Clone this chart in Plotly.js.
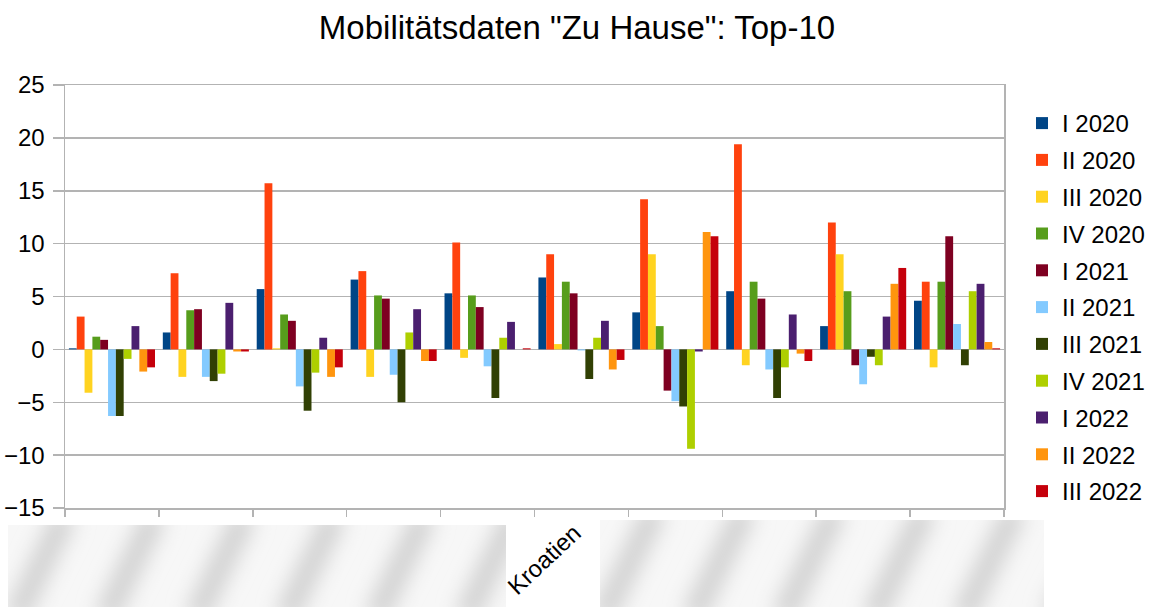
<!DOCTYPE html>
<html><head><meta charset="utf-8">
<script src="https://cdn.plot.ly/plotly-3.0.1.min.js"></script>
<style>html,body{margin:0;padding:0;background:#fff}#chart{width:1153px;height:607px}</style>
</head><body><div id="chart"></div>
<script>
// Categories (country labels are redacted in the reference except "Kroatien")
const categories = ['Land 1','Land 2','Land 3','Land 4','Land 5','Kroatien','Land 7','Land 8','Land 9','Land 10'];
const tickLabels = ['','','','','','Kroatien','','','',''];

const seriesNames = ['I 2020','II 2020','III 2020','IV 2020','I 2021','II 2021','III 2021','IV 2021','I 2022','II 2022','III 2022'];

const s_I_2020   = [0.1, 1.6, 5.7, 6.6, 5.3, 6.8, 3.5, 5.5, 2.2, 4.6];
const s_II_2020  = [3.1, 7.2, 15.7, 7.4, 10.1, 9.0, 14.2, 19.4, 12.0, 6.4];
const s_III_2020 = [-4.1, -2.6, 0.1, -2.6, -0.8, 0.5, 9.0, -1.5, 9.0, -1.7];
const s_IV_2020  = [1.2, 3.7, 3.3, 5.1, 5.1, 6.4, 2.2, 6.4, 5.5, 6.4];
const s_I_2021   = [0.9, 3.8, 2.7, 4.8, 4.0, 5.3, -3.9, 4.8, -1.5, 10.7];
const s_II_2021  = [-6.3, -2.6, -3.5, -2.4, -1.6, -0.1, -4.9, -1.9, -3.3, 2.4];
const s_III_2021 = [-6.3, -3.0, -5.8, -5.0, -4.6, -2.8, -5.4, -4.6, -0.7, -1.5];
const s_IV_2021  = [-0.9, -2.3, -2.2, 1.6, 1.1, 1.1, -9.4, -1.7, -1.5, 5.5];
const s_I_2022   = [2.2, 4.4, 1.1, 3.8, 2.6, 2.7, -0.2, 3.3, 3.1, 6.2];
const s_II_2022  = [-2.1, -0.2, -2.6, -1.1, 0.0, -1.9, 11.1, -0.4, 6.2, 0.7];
const s_III_2022 = [-1.7, -0.2, -1.7, -1.1, 0.1, -1.0, 10.7, -1.1, 7.7, 0.1];

const seriesValues = [s_I_2020, s_II_2020, s_III_2020, s_IV_2020, s_I_2021, s_II_2021, s_III_2021, s_IV_2021, s_I_2022, s_II_2022, s_III_2022];
const colors = ['#004586','#ff420e','#ffd320','#579d1c','#7e0021','#83caff','#314004','#aecf00','#4b1f6f','#ff950e','#c5000b'];

const traces = seriesNames.map((n, i) => ({
  type: 'bar', name: n, x: categories, y: seriesValues[i],
  marker: {color: colors[i], line: {width: 0}},
  legendgroup: 'g' + i, hoverinfo: 'x+y+name'
}));

// blurred redaction patch (as in the reference)
function patchSVG(w, h) {
  let stripes = '';
  for (let x = -h; x < w + h; x += 90) {
    stripes += `<line x1="${x}" y1="${h+10}" x2="${x + h*0.6}" y2="-10" stroke="#d2d2d2" stroke-width="24"/>`;
  }
  const svg = `<svg xmlns="http://www.w3.org/2000/svg" width="${w}" height="${h}" viewBox="0 0 ${w} ${h}">
  <defs><filter id="b" x="-20%" y="-20%" width="140%" height="140%"><feGaussianBlur stdDeviation="10"/></filter></defs>
  <rect width="${w}" height="${h}" fill="#f7f7f7"/>
  <g filter="url(#b)">${stripes}</g></svg>`;
  return 'data:image/svg+xml;base64,' + btoa(svg);
}

const W = 1153, H = 607;
const L = 65, R = 149, T = 85, B = 99;
const PW = W - L - R, PH = H - T - B;
const layout = {
  width: W, height: H,
  margin: {l: L, r: R, t: T, b: B},
  paper_bgcolor: '#ffffff', plot_bgcolor: '#ffffff',
  font: {family: 'Liberation Sans, Arial, sans-serif', color: '#000'},
  title: {text: 'Mobilitätsdaten "Zu Hause": Top-10', x: 577/W, xanchor: 'center', xref: 'container',
          y: 1 - 27/607, yanchor: 'middle', yref: 'container', font: {size: 33, color: '#000'}},
  barmode: 'group', bargap: 1/12, bargroupgap: 0,
  xaxis: {type: 'category', tickvals: categories, ticktext: tickLabels, tickangle: -43,
          tickson: 'boundaries', ticks: 'outside', ticklen: 7, tickcolor: '#b3b3b3', tickwidth: 1.5,
          showgrid: false, showline: true, mirror: true, linecolor: '#b3b3b3', linewidth: 1.5,
          tickfont: {size: 24, color: '#000'}, ticklabelshift: -7, zeroline: false},
  yaxis: {range: [-15, 25], dtick: 5, tick0: 0, ticks: 'outside', ticklen: 11, tickcolor: '#b3b3b3', tickwidth: 1.5,
          showgrid: true, gridcolor: '#b3b3b3', gridwidth: 1.5, zeroline: true, zerolinecolor: '#b3b3b3', zerolinewidth: 1.5,
          showline: true, mirror: true, linecolor: '#b3b3b3', linewidth: 1.5,
          tickfont: {size: 24, color: '#000'}, ticklabelstandoff: 3},
  legend: {x: 1022/W, xref: 'container', y: 1 - 101/H, yref: 'container', xanchor: 'left', yanchor: 'top',
           font: {size: 24, color: '#000'}, tracegroupgap: 2.6, itemwidth: 30, bgcolor: 'rgba(0,0,0,0)',
           maxheight: 600},
  showlegend: true,
  images: [
    {source: patchSVG(498, 82), xref: 'paper', yref: 'paper', x: (8-L)/PW, y: -(525-(T+PH))/PH,
     sizex: 498/PW, sizey: 82/PH, xanchor: 'left', yanchor: 'top', sizing: 'stretch', layer: 'above'},
    {source: patchSVG(444, 87), xref: 'paper', yref: 'paper', x: (600-L)/PW, y: -(520-(T+PH))/PH,
     sizex: 444/PW, sizey: 87/PH, xanchor: 'left', yanchor: 'top', sizing: 'stretch', layer: 'above'}
  ]
};

Plotly.newPlot('chart', traces, layout, {displayModeBar: false, staticPlot: true});
</script></body></html>
